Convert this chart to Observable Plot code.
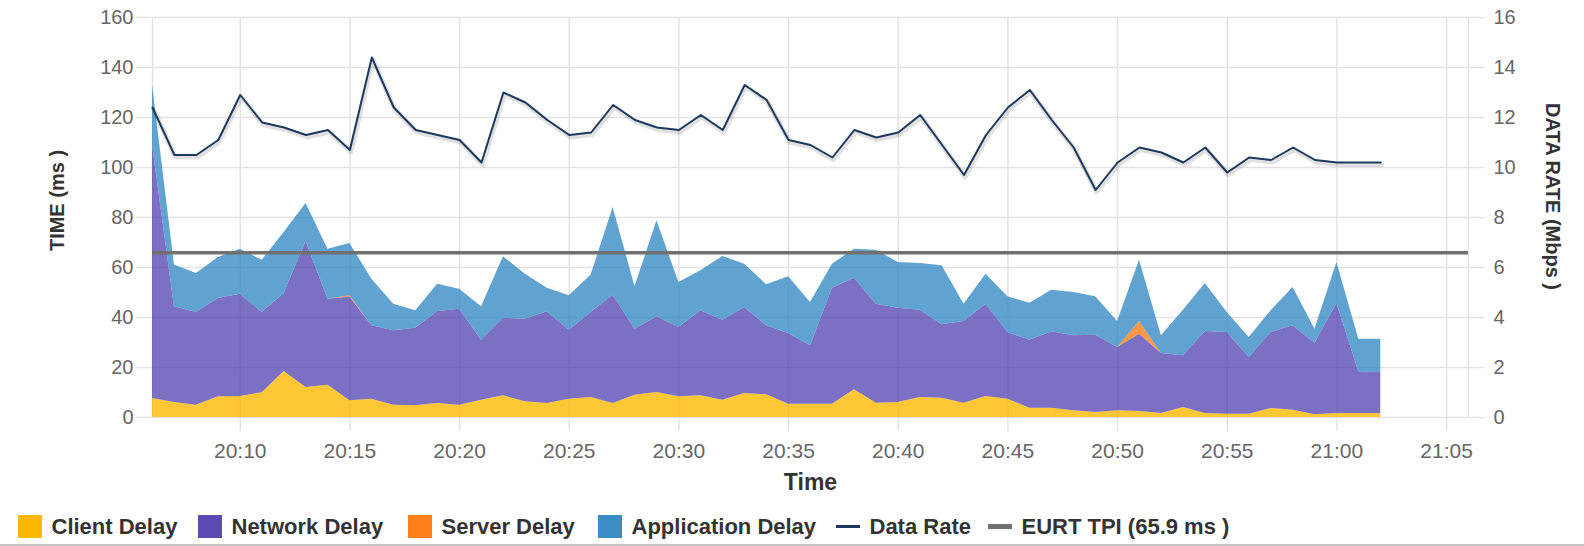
<!DOCTYPE html>
<html>
<head>
<meta charset="utf-8">
<script src="https://cdn.jsdelivr.net/npm/d3@7"></script>
<script src="https://cdn.jsdelivr.net/npm/@observablehq/plot@0.6"></script>
<style>
  html, body { margin: 0; padding: 0; background: #fff; overflow: hidden; }
  body { width: 1584px; height: 546px; font-family: "Liberation Sans", Arial, sans-serif; }
  #chart { height: 505px; }
  #chart svg { display: block; max-width: none !important; }
  #legend { position: relative; height: 39px; border-bottom: 2px solid #c4c4c4; }
  .item { position: absolute; top: 2px; height: 39px; display: flex; align-items: center; font-weight: bold; font-size: 22px; color: #333; white-space: nowrap; }
  .sw { width: 23.5px; height: 23.5px; margin-right: 10px; }
  .ln { width: 23.5px; margin-right: 10px; }
</style>
</head>
<body>
<div id="chart"></div>
<div id="legend"></div>
<script>
const times = ["20:06","20:07","20:08","20:09","20:10","20:11","20:12","20:13","20:14","20:15",
  "20:16","20:17","20:18","20:19","20:20","20:21","20:22","20:23","20:24","20:25",
  "20:26","20:27","20:28","20:29","20:30","20:31","20:32","20:33","20:34","20:35",
  "20:36","20:37","20:38","20:39","20:40","20:41","20:42","20:43","20:44","20:45",
  "20:46","20:47","20:48","20:49","20:50","20:51","20:52","20:53","20:54","20:55",
  "20:56","20:57","20:58","20:59","21:00","21:01","21:02"];

const clientDelay = [7.6,6.0,4.9,8.3,8.4,9.9,18.4,12.0,12.9,6.7,
  7.3,4.9,4.7,5.6,4.9,6.9,8.7,6.3,5.6,7.3,
  8.0,5.6,8.9,10.0,8.3,8.7,6.9,9.6,9.1,5.3,
  5.3,5.3,11.1,5.7,6.0,8.0,7.7,5.7,8.4,7.3,
  3.7,3.7,2.7,2.0,2.7,2.4,1.6,4.0,1.6,1.3,
  1.3,3.6,2.9,1.1,1.6,1.6,1.6];

const networkDelay = [101.4,38.3,37.1,39.3,40.9,32.1,31.2,58.4,34.4,41.5,
  29.4,29.8,31.0,36.8,38.4,24.0,31.0,33.0,36.7,27.6,
  34.0,43.3,26.4,30.3,27.7,34.0,32.0,34.4,27.6,28.3,
  23.4,46.4,44.6,39.6,37.7,34.9,29.4,32.7,36.9,26.7,
  27.2,30.6,30.0,30.9,25.3,30.9,24.0,20.7,32.8,32.7,
  22.7,30.4,33.8,28.6,44.0,16.7,16.4];

const serverDelay = [0,0,0,0,0,0,0,0,0,0.5,
  0,0,0,0,0,0,0,0,0,0,
  0,0,0,0,0,0,0,0,0,0,
  0,0,0,0,0,0,0,0,0,0,
  0,0,0,0,0,5.1,0,0,0,0,
  0,0,0,0,0,0,0];

const applicationDelay = [24.0,16.7,15.6,16.4,18.0,20.9,24.4,15.2,20.0,20.9,
  18.6,10.6,7.0,10.9,8.0,13.4,24.6,18.0,9.4,13.8,
  15.0,35.1,17.0,38.4,18.0,16.0,25.5,17.3,16.4,22.7,
  17.3,9.6,11.6,21.6,18.3,18.7,23.6,6.9,12.0,14.3,
  14.8,16.6,17.3,15.4,10.4,24.5,7.1,18.2,19.2,8.0,
  8.0,8.7,15.3,5.6,16.4,13.0,13.3];

const dataRate = [12.4,10.5,10.5,11.1,12.9,11.8,11.6,11.3,11.5,10.7,
  14.4,12.4,11.5,11.3,11.1,10.2,13.0,12.6,11.9,11.3,
  11.4,12.5,11.9,11.6,11.5,12.1,11.5,13.3,12.7,11.1,
  10.9,10.4,11.5,11.2,11.4,12.1,10.9,9.7,11.3,12.4,
  13.1,11.9,10.8,9.1,10.2,10.8,10.6,10.2,10.8,9.8,
  10.4,10.3,10.8,10.3,10.2,10.2,10.2];

const eurtTpi = 65.9;

const seriesNames = ["Client Delay", "Network Delay", "Server Delay", "Application Delay"];
const seriesColors = ["#ffb900", "#5a4cb4", "#ff7f1a", "#3a8cc4"];
const xTickLabels = ["20:10","20:15","20:20","20:25","20:30","20:35","20:40","20:45","20:50","20:55","21:00","21:05"];
const xDomainLabels = ["20:06", "21:06"];
const yTicks = [0,20,40,60,80,100,120,140,160];

const parse = d3.utcParse("%H:%M");
const seriesValues = [clientDelay, networkDelay, serverDelay, applicationDelay];
const rows = [];
times.forEach((t, i) => {
  seriesNames.forEach((name, k) => rows.push({time: parse(t), series: name, value: seriesValues[k][i]}));
});
const rateRows = times.map((t, i) => ({time: parse(t), rate: dataRate[i]}));
const xTicks = xTickLabels.map(parse);
const xDomain = xDomainLabels.map(parse);
const rateFactor = 160 / 16;

const gridColor = "#e4e2e6";
const fontFamily = "'Liberation Sans', Arial, sans-serif";

const chart = Plot.plot({
  width: 1584,
  height: 505,
  marginTop: 17,
  marginBottom: 88,
  marginLeft: 152,
  marginRight: 116,
  style: {fontFamily, fontSize: "20px", color: "#666", background: "#fff", overflow: "visible"},
  x: {type: "utc", domain: xDomain},
  y: {domain: [0, 160]},
  color: {domain: seriesNames, range: seriesColors},
  marks: [
    Plot.gridY(yTicks, {stroke: gridColor, strokeOpacity: 1, strokeWidth: 1.5}),
    Plot.gridX(xTicks, {stroke: gridColor, strokeOpacity: 1, strokeWidth: 1.5}),
    Plot.ruleX(xDomain, {stroke: gridColor, strokeWidth: 1.5}),
    Plot.areaY(rows, {x: "time", y: "value", z: "series", fill: "series", fillOpacity: 0.8, order: seriesNames}),
    Plot.ruleY([eurtTpi], {stroke: "#707070", strokeWidth: 3.5}),
    Plot.lineY(rateRows, {x: "time", y: d => d.rate * rateFactor, stroke: "#000", strokeOpacity: 0.12, strokeWidth: 5, dx: 1, dy: 2}),
    Plot.lineY(rateRows, {x: "time", y: d => d.rate * rateFactor, stroke: "#1c3a5e", strokeWidth: 2}),
    Plot.axisY({ticks: yTicks, anchor: "left", tickSize: 16, tickPadding: 3, stroke: gridColor, strokeWidth: 1.5, fill: "#666", label: null}),
    Plot.axisY({ticks: yTicks, anchor: "right", tickSize: 15, tickPadding: 10, stroke: gridColor, strokeWidth: 1.5, fill: "#666", label: null, tickFormat: d => d / rateFactor}),
    Plot.axisX({ticks: xTicks, tickSize: 14, tickPadding: 12, fontSize: 21, stroke: gridColor, strokeWidth: 1.5, fill: "#666", label: null, tickFormat: d3.utcFormat("%H:%M")}),
    Plot.text(["Time"], {frameAnchor: "bottom", dy: 65, lineAnchor: "middle", fontWeight: "bold", fontSize: 23, fill: "#333"}),
    Plot.text(["TIME (ms )"], {frameAnchor: "left", dx: -95, dy: -17, rotate: -90, lineAnchor: "middle", textAnchor: "middle", fontWeight: "bold", fontSize: 20, fill: "#333"}),
    Plot.text(["DATA RATE (Mbps )"], {frameAnchor: "right", dx: 84, dy: -21, rotate: 90, lineAnchor: "middle", textAnchor: "middle", fontWeight: "bold", fontSize: 20, fill: "#333"})
  ]
});
document.getElementById("chart").appendChild(chart);

const legend = document.getElementById("legend");
const legendLeft = [18, 198, 408, 598, 836, 988];
seriesNames.forEach((name, k) => {
  const item = document.createElement("div");
  item.className = "item";
  item.style.left = legendLeft[k] + "px";
  item.innerHTML = `<span class="sw" style="background:${seriesColors[k]}"></span><span>${name}</span>`;
  legend.appendChild(item);
});
const lineItems = [["Data Rate", "#1c3a5e", 3], [`EURT TPI (${eurtTpi} ms )`, "#707070", 5]];
lineItems.forEach(([name, color, h], j) => {
  const item = document.createElement("div");
  item.className = "item";
  item.style.left = legendLeft[4 + j] + "px";
  item.innerHTML = `<span class="ln" style="height:${h}px;background:${color}"></span><span>${name}</span>`;
  legend.appendChild(item);
});
</script>
</body>
</html>
